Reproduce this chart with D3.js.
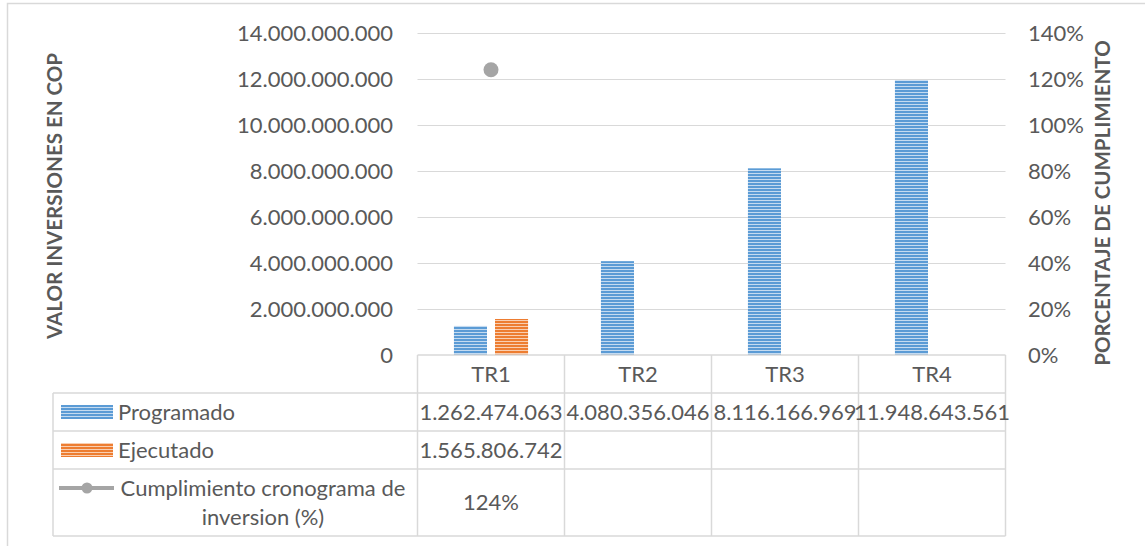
<!DOCTYPE html>
<html>
<head>
	<meta charset="utf-8">
	<title>Cronograma de inversion</title>
	<script src="https://d3js.org/d3.v7.min.js"></script>
	<style>
		body { margin: 0; background: #fff; }
		text { font-family: Lato, "Open Sans", sans-serif; fill: #595959; }
		.tick text { font-size: 22px; fill: #595959; }
		.grid line { stroke: #d9d9d9; stroke-width: 1.2; }
		.tbl { stroke: #d9d9d9; stroke-width: 1.5; fill: none; }
	</style>
</head>
<body>
<svg width="1145" height="546"></svg>
<script>
	// data
	var categories = ["TR1", "TR2", "TR3", "TR4"];
	var programado = [1262474063, 4080356046, 8116166969, 11948643561];
	var ejecutado = [1565806742, null, null, null];
	var cumplimiento = [1.24, null, null, null];
	var seriesNames = ["Programado", "Ejecutado", "Cumplimiento cronograma de inversion (%)"];
	var leftTicks = [0, 2e9, 4e9, 6e9, 8e9, 10e9, 12e9, 14e9];
	var rightTicks = [0, 0.2, 0.4, 0.6, 0.8, 1.0, 1.2, 1.4];

	var svg = d3.select("svg");
	var plot = {left: 417.5, right: 1005.5, top: 33, bottom: 355};
	var blue = "#5b9bd5", blueLight = "#c5dbf0";
	var orange = "#ed7d31", orangeLight = "#f9cfb2";
	var grey = "#a5a5a5";

	var es = d3.formatLocale({decimal: ",", thousands: ".", grouping: [3], currency: ["$", ""]});
	var fmtNum = es.format(",d");
	var fmtPct = d3.format(".0%");

	// striped fills (Excel narrow horizontal pattern)
	var defs = svg.append("defs");
	function stripes(id, fg, bg) {
		var p = defs.append("pattern").attr("id", id)
			.attr("patternUnits", "userSpaceOnUse").attr("width", 6).attr("height", 3);
		p.append("rect").attr("width", 6).attr("height", 3).attr("fill", bg);
		p.append("rect").attr("width", 6).attr("height", 2).attr("fill", fg);
	}
	stripes("pBlue", blue, blueLight);
	stripes("pOrange", orange, orangeLight);

	// outer chart border
	svg.append("rect").attr("x", 7.5).attr("y", 3.5).attr("width", 1150).attr("height", 560)
		.attr("fill", "none").attr("stroke", "#d9d9d9").attr("stroke-width", 1.5);

	var x0 = d3.scaleBand().domain(categories).range([plot.left, plot.right]);
	var x1 = d3.scaleBand().domain(["Programado", "Ejecutado"]).range([0, x0.bandwidth()])
		.paddingInner(0.195).paddingOuter(0.887);
	var y = d3.scaleLinear().domain([0, 14e9]).range([plot.bottom, plot.top]);
	var y2 = d3.scaleLinear().domain([0, 1.4]).range([plot.bottom, plot.top]);

	// gridlines
	svg.append("g").attr("class", "grid")
		.attr("transform", "translate(" + plot.left + ",0)")
		.call(d3.axisLeft(y).tickValues(leftTicks.slice(1)).tickSize(-(plot.right - plot.left)).tickFormat(""))
		.call(function(g) { g.select(".domain").remove(); });

	// left axis
	svg.append("g")
		.attr("transform", "translate(" + plot.left + ",0)")
		.call(d3.axisLeft(y).tickValues(leftTicks).tickSize(0).tickPadding(24.5).tickFormat(fmtNum))
		.call(function(g) { g.select(".domain").remove(); g.selectAll("text").attr("fill", "#595959"); });

	// right axis
	svg.append("g")
		.attr("transform", "translate(" + plot.right + ",0)")
		.call(d3.axisRight(y2).tickValues(rightTicks).tickSize(0).tickPadding(22.5).tickFormat(fmtPct))
		.call(function(g) { g.select(".domain").remove(); g.selectAll("text").attr("fill", "#595959"); });

	// axis titles
	svg.append("text")
		.attr("transform", "translate(62,196) rotate(-90)")
		.attr("text-anchor", "middle")
		.style("font-size", "20.5px").style("font-weight", "bold")
		.text("VALOR INVERSIONES EN COP");
	svg.append("text")
		.attr("transform", "translate(1110,203) rotate(-90)")
		.attr("text-anchor", "middle")
		.style("font-size", "20.5px").style("font-weight", "bold")
		.text("PORCENTAJE DE CUMPLIMIENTO");

	// bars
	var bars = [];
	categories.forEach(function(c, i) {
		if (programado[i] != null) bars.push({cat: c, s: "Programado", v: programado[i]});
		if (ejecutado[i] != null) bars.push({cat: c, s: "Ejecutado", v: ejecutado[i]});
	});
	svg.selectAll(".bar")
		.data(bars)
		.enter().append("rect")
		.attr("class", "bar")
		.attr("x", function(d) { return x0(d.cat) + x1(d.s); })
		.attr("width", x1.bandwidth())
		.attr("y", function(d) { return y(d.v); })
		.attr("height", function(d) { return y(0) - y(d.v); })
		.attr("fill", function(d) { return d.s == "Programado" ? "url(#pBlue)" : "url(#pOrange)"; });

	// cumplimiento marker
	svg.selectAll(".dot")
		.data(categories.map(function(c, i) { return {cat: c, v: cumplimiento[i]}; })
			.filter(function(d) { return d.v != null; }))
		.enter().append("circle")
		.attr("class", "dot")
		.attr("cx", function(d) { return x0(d.cat) + x0.bandwidth() / 2; })
		.attr("cy", function(d) { return y2(d.v); })
		.attr("r", 7.5)
		.attr("fill", grey);

	// data table
	var rowY = [355, 393, 431, 469, 536];
	var legLeft = 53;
	var t = svg.append("g");
	t.append("line").attr("class", "tbl").attr("x1", plot.left).attr("x2", plot.right).attr("y1", rowY[0]).attr("y2", rowY[0]);
	rowY.slice(1).forEach(function(yy) {
		t.append("line").attr("class", "tbl").attr("x1", legLeft).attr("x2", plot.right).attr("y1", yy).attr("y2", yy);
	});
	t.append("line").attr("class", "tbl").attr("x1", legLeft).attr("x2", legLeft).attr("y1", rowY[1]).attr("y2", rowY[4]);
	categories.concat([null]).forEach(function(c) {
		var xx = c ? x0(c) : plot.right;
		t.append("line").attr("class", "tbl").attr("x1", xx).attr("x2", xx).attr("y1", rowY[0]).attr("y2", rowY[4]);
	});

	function cellText(xx, yy, s, anchor) {
		return t.append("text").attr("x", xx).attr("y", yy).attr("dy", "0.35em")
			.attr("text-anchor", anchor || "middle").style("font-size", "22px").text(s);
	}
	categories.forEach(function(c, i) {
		var cx = x0(c) + x0.bandwidth() / 2;
		cellText(cx, (rowY[0] + rowY[1]) / 2, c);
		if (programado[i] != null) cellText(cx, (rowY[1] + rowY[2]) / 2, fmtNum(programado[i]));
		if (ejecutado[i] != null) cellText(cx, (rowY[2] + rowY[3]) / 2, fmtNum(ejecutado[i]));
		if (cumplimiento[i] != null) cellText(cx, (rowY[3] + rowY[4]) / 2, fmtPct(cumplimiento[i]));
	});

	// legend keys inside the table
	t.append("rect").attr("x", 61).attr("y", (rowY[1] + rowY[2]) / 2 - 7).attr("width", 52).attr("height", 14).attr("fill", "url(#pBlue)");
	t.append("rect").attr("x", 61).attr("y", (rowY[2] + rowY[3]) / 2 - 7).attr("width", 52).attr("height", 14).attr("fill", "url(#pOrange)");
	cellText(118, (rowY[1] + rowY[2]) / 2, seriesNames[0], "start");
	cellText(118, (rowY[2] + rowY[3]) / 2, seriesNames[1], "start");
	t.append("line").attr("x1", 59).attr("x2", 114).attr("y1", 488).attr("y2", 488)
		.attr("stroke", grey).attr("stroke-width", 4);
	t.append("circle").attr("cx", 87).attr("cy", 488).attr("r", 5.5).attr("fill", grey);
	cellText(263, 488, "Cumplimiento cronograma de");
	cellText(263, 517, "inversion (%)");
</script>
</body>
</html>
